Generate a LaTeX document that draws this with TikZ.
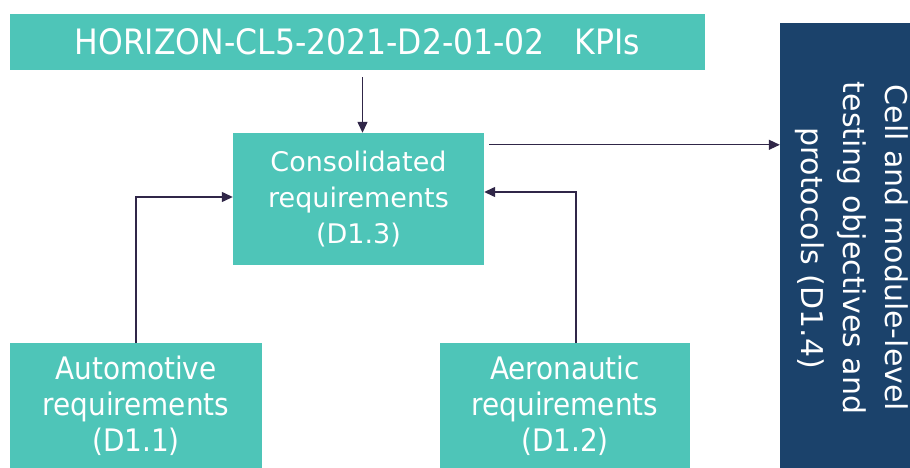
\documentclass[tikz,border=0pt]{standalone}
\usepackage{fontspec}
\setmainfont{DejaVu Sans}
\newfontfamily\condfont{DejaVu Sans Condensed}
\usetikzlibrary{arrows.meta,positioning}
\definecolor{boxteal}{RGB}{78,197,184}
\definecolor{boxnavy}{RGB}{27,66,107}
\definecolor{linepurple}{RGB}{48,38,72}

\begin{document}
\begin{tikzpicture}[x=1pt, y=-1pt,
  tealbox/.style={rectangle, fill=boxteal, text=white, align=center, inner sep=0pt},
  arr/.style={-{Triangle[length=11pt,width=10pt]}, draw=linepurple, line width=1.3pt}]
\useasboundingbox (0,0) rectangle (910,468);
\node[tealbox, minimum width=695pt, minimum height=56pt, font=\condfont\fontsize{35}{36}\selectfont] (kpis) at (357.5,42) {HORIZON-CL5-2021-D2-01-02\ \ \ KPIs};
\node[tealbox, minimum width=251pt, minimum height=132pt, font=\fontsize{27}{36}\selectfont] (consol) at (358.5,199) {Consolidated\\requirements\\(D1.3)};
\node[tealbox, minimum width=252pt, minimum height=125pt, font=\condfont\fontsize{31}{36}\selectfont] (auto) at (136,405.5) {Automotive\\requirements\\(D1.1)};
\node[tealbox, minimum width=250pt, minimum height=125pt, font=\condfont\fontsize{31}{36}\selectfont] (aero) at (565,405.5) {Aeronautic\\requirements\\(D1.2)};
\node[rectangle, fill=boxnavy, minimum width=130pt, minimum height=445pt, inner sep=0pt] (cell) at (845,245.5) {};
\node[text=white, align=center, rotate=-90, font=\fontsize{30}{42}\selectfont] (celltext) at (852,248) {Cell and module-level\\testing objectives and\\protocols (D1.4)};

\draw[arr, shorten <=7pt] ([xshift=5pt]kpis.south) -- ([xshift=5pt]kpis.south |- consol.north);
\draw[arr, shorten <=5pt] ([yshift=-12pt]consol.north east) -- ([yshift=-12pt]consol.north east -| cell.west);
\draw[arr] (auto.north) |- ([yshift=2pt]consol.west);
\draw[arr] ([xshift=11pt]aero.north) |- ([yshift=7pt]consol.east);
\end{tikzpicture}
\end{document}
